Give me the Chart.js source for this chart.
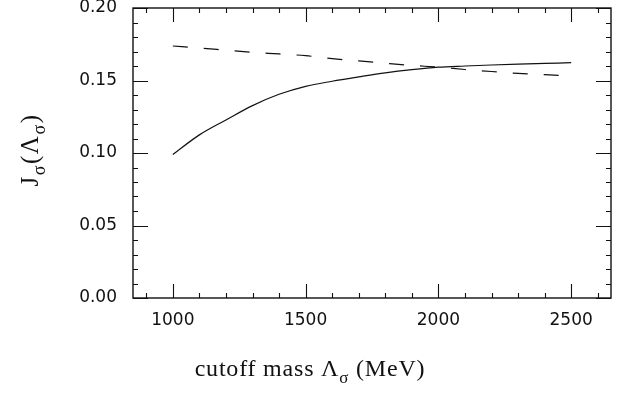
<!DOCTYPE html>
<html>
<head>
<meta charset="utf-8">
<script src="https://cdn.jsdelivr.net/npm/chart.js@4.4.0/dist/chart.umd.min.js"></script>
<style>
  html, body { margin: 0; padding: 0; background: #fff; }
  #wrap { width: 618px; height: 393px; position: relative; }
</style>
</head>
<body>
<div id="wrap"><canvas id="c" width="618" height="393"></canvas></div>
<script>
// cutoff mass Λσ (MeV)
const masses = [1000, 1100, 1200, 1300, 1400, 1500, 1600, 1700, 1800, 1900, 2000, 2100, 2200, 2300, 2400, 2500];
// solid curve
const solidValues = [0.0990, 0.1125, 0.1228, 0.1327, 0.1405, 0.1460, 0.1495, 0.1525, 0.1553, 0.1575, 0.1592, 0.1600, 0.1607, 0.1613, 0.1618, 0.1623];
// dashed curve
const dashedValues = [0.1738, 0.1724, 0.1709, 0.1694, 0.1683, 0.1671, 0.1651, 0.1635, 0.1619, 0.1604, 0.1592, 0.1576, 0.1562, 0.1549, 0.1540, 0.1532];

const xTickValues = [1000, 1500, 2000, 2500];
const yTickValues = [0.00, 0.05, 0.10, 0.15, 0.20];
const xMinorStep = 100;
const yMinorStep = 0.01;
const xRange = [850, 2650];
const yRange = [0, 0.20];

const xTitle = ["cutoff mass \u039B", "\u03C3", " (MeV)"];
const yTitle = ["J", "\u03C3", "(\u039B", "\u03C3", ")"];

const ink = '#111';

function drawSubText(ctx, parts, x, y, size, spacing) {
  const big = size + 'px "Liberation Serif", "DejaVu Serif", serif';
  const small = Math.round(size * 0.72) + 'px "Liberation Serif", "DejaVu Serif", serif';
  ctx.letterSpacing = spacing + 'px';
  let widths = parts.map((p, i) => { ctx.font = (i % 2 ? small : big); return ctx.measureText(p).width; });
  const total = widths.reduce((a, b) => a + b, 0);
  let cx = x - total / 2;
  parts.forEach((p, i) => {
    ctx.font = (i % 2 ? small : big);
    ctx.fillText(p, cx, y + (i % 2 ? size * 0.28 : 0));
    cx += widths[i];
  });
  ctx.letterSpacing = '0px';
}

const framePlugin = {
  id: 'frame',
  afterDatasetsDraw(chart) {
    const ctx = chart.ctx;
    const a = chart.chartArea;
    const xs = chart.scales.x, ys = chart.scales.y;
    ctx.save();
    ctx.strokeStyle = ink;
    ctx.lineWidth = 1.4;
    ctx.strokeRect(a.left, a.top, a.right - a.left, a.bottom - a.top);
    ctx.lineWidth = 1.1;
    for (let v = Math.ceil(xRange[0] / xMinorStep) * xMinorStep; v <= xRange[1]; v += xMinorStep) {
      const px = Math.round(xs.getPixelForValue(v)) + 0.5;
      const len = xTickValues.includes(v) ? 14 : 5;
      ctx.beginPath();
      ctx.moveTo(px, a.bottom); ctx.lineTo(px, a.bottom - len);
      ctx.moveTo(px, a.top); ctx.lineTo(px, a.top + len);
      ctx.stroke();
    }
    for (let k = 0; k <= Math.round((yRange[1] - yRange[0]) / yMinorStep); k++) {
      const v = yRange[0] + k * yMinorStep;
      const py = Math.round(ys.getPixelForValue(v)) + 0.5;
      const major = yTickValues.some(t => Math.abs(t - v) < 1e-9);
      const len = major ? 15 : 5;
      ctx.beginPath();
      ctx.moveTo(a.left, py); ctx.lineTo(a.left + len, py);
      ctx.moveTo(a.right, py); ctx.lineTo(a.right - len, py);
      ctx.stroke();
    }
    ctx.fillStyle = ink;
    ctx.textBaseline = 'alphabetic';
    ctx.textAlign = 'left';
    drawSubText(ctx, xTitle, 310, 376, 24, 0.8);
    ctx.translate(38, 150);
    ctx.rotate(-Math.PI / 2);
    drawSubText(ctx, yTitle, 0, 0, 25, 1.5);
    ctx.restore();
  }
};

new Chart(document.getElementById('c'), {
  type: 'line',
  data: {
    datasets: [
      {
        label: 'solid',
        data: masses.map((m, i) => ({ x: m, y: solidValues[i] })),
        borderColor: ink, borderWidth: 1.2, pointRadius: 0, cubicInterpolationMode: 'monotone', fill: false
      },
      {
        label: 'dashed',
        data: masses.map((m, i) => ({ x: m, y: dashedValues[i] })),
        borderColor: ink, borderWidth: 1.2, pointRadius: 0, cubicInterpolationMode: 'monotone', fill: false,
        borderDash: [15, 16]
      }
    ]
  },
  options: {
    responsive: false,
    animation: false,
    devicePixelRatio: 1,
    layout: { padding: { left: 0, right: 7, top: 8, bottom: 0 } },
    plugins: { legend: { display: false }, tooltip: { enabled: false }, title: { display: false } },
    scales: {
      x: {
        type: 'linear', min: xRange[0], max: xRange[1],
        grid: { display: false, drawTicks: false },
        border: { display: false },
        afterBuildTicks: s => { s.ticks = xTickValues.map(v => ({ value: v })); },
        afterFit: s => { s.height = 95; s.paddingLeft = 0; s.paddingRight = 0; },
        ticks: { color: ink, padding: 12, maxRotation: 0, font: { family: '"DejaVu Sans", sans-serif', size: 17 },
                 callback: v => String(v) }
      },
      y: {
        type: 'linear', min: yRange[0], max: yRange[1],
        grid: { display: false, drawTicks: false },
        border: { display: false },
        afterBuildTicks: s => { s.ticks = yTickValues.map(v => ({ value: v })); },
        afterFit: s => { s.width = 133; s.paddingTop = 0; s.paddingBottom = 0; },
        ticks: { color: ink, padding: 16, font: { family: '"DejaVu Sans", sans-serif', size: 17 },
                 callback: v => Number(v).toFixed(2) }
      }
    }
  },
  plugins: [framePlugin]
});
</script>
</body>
</html>
